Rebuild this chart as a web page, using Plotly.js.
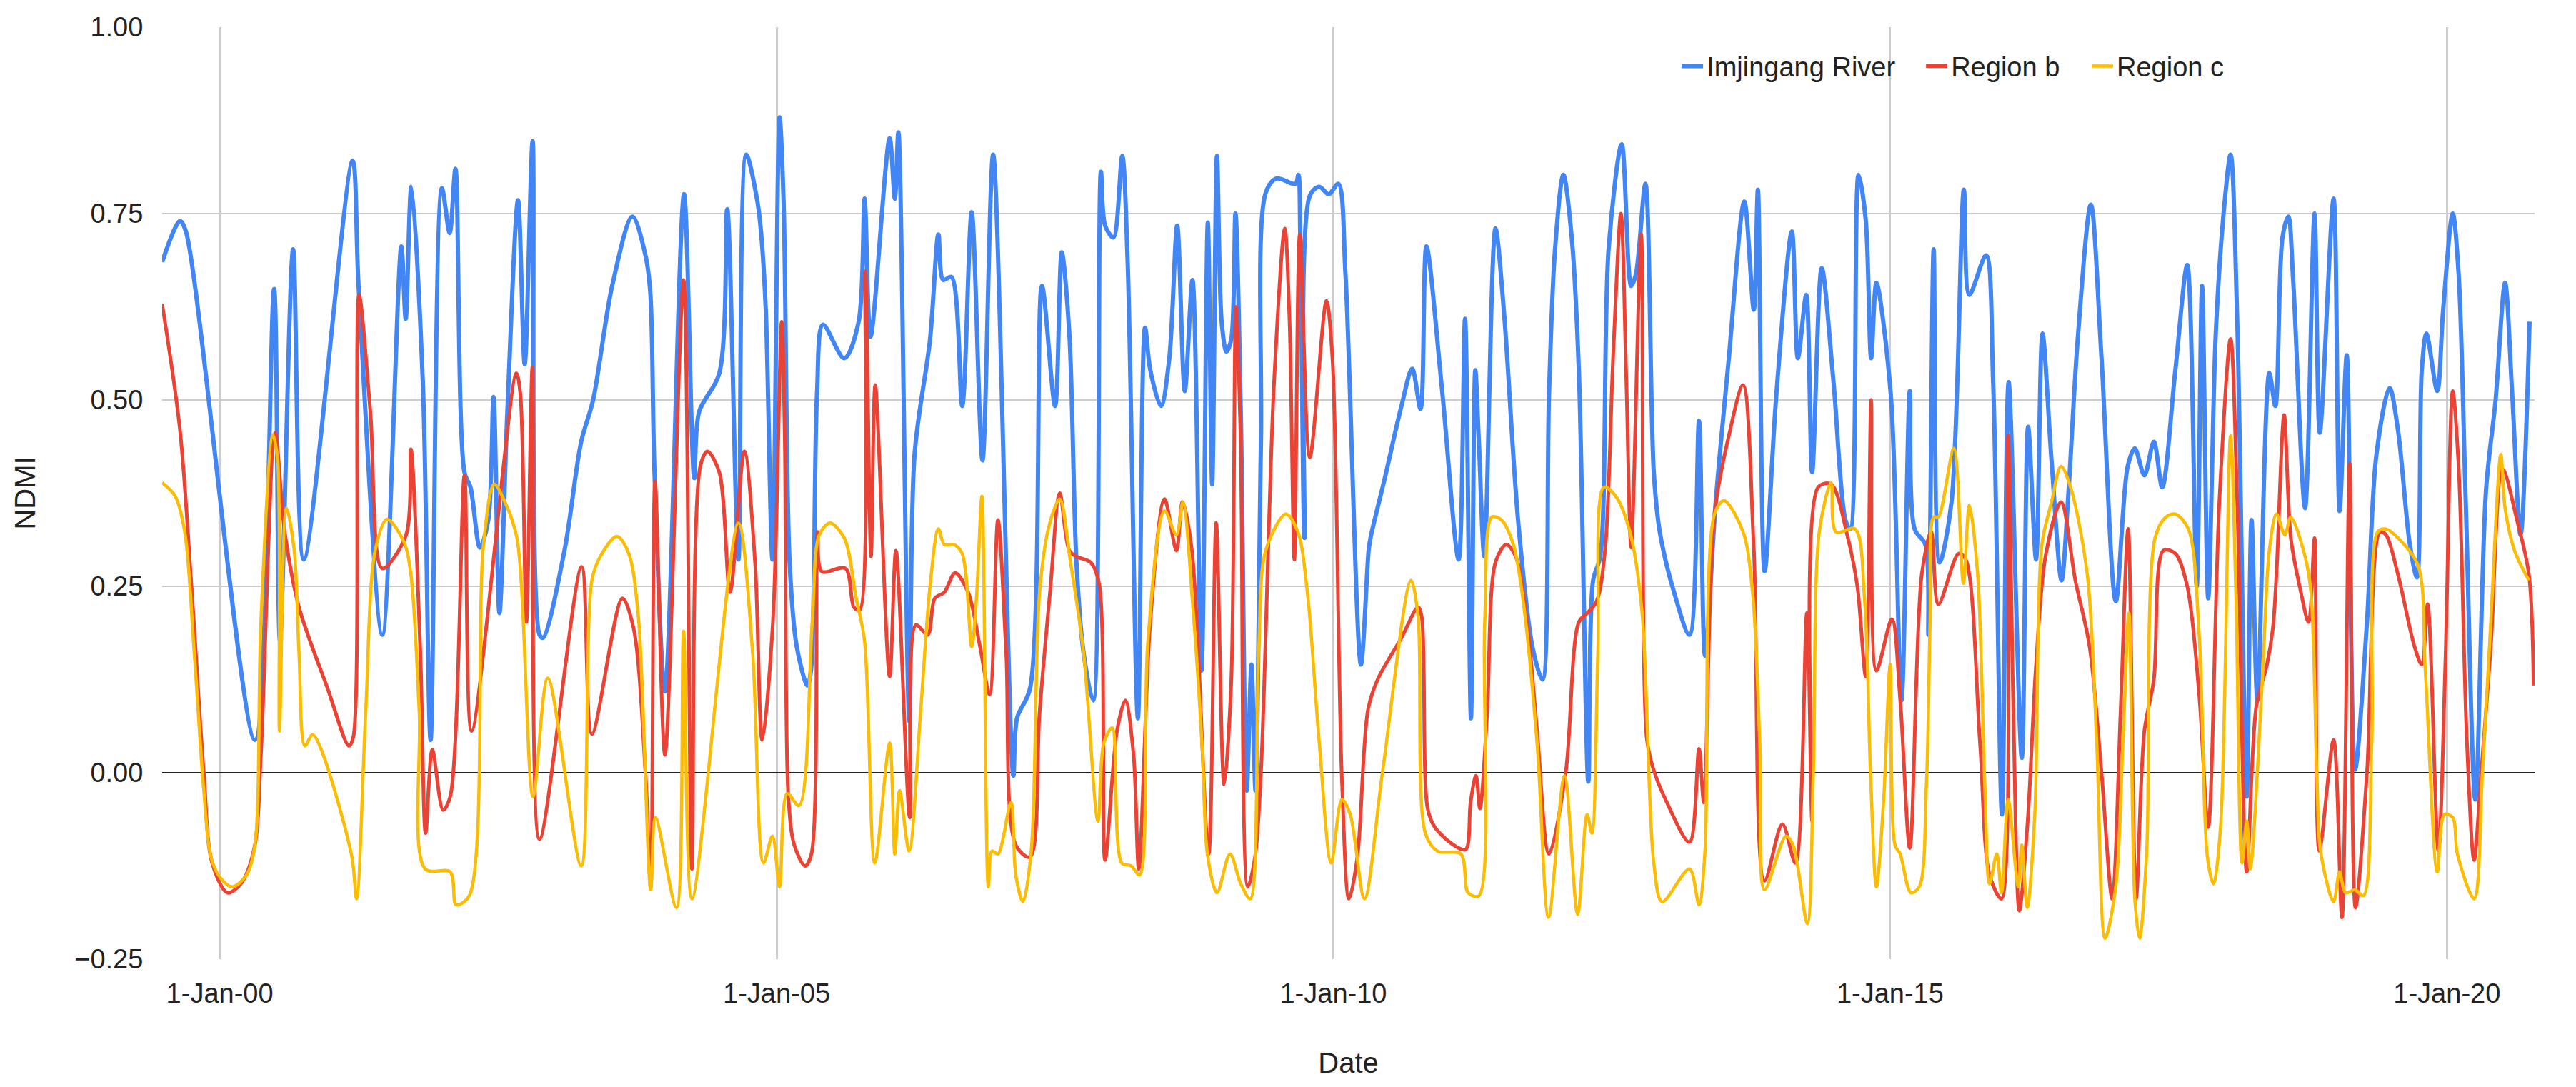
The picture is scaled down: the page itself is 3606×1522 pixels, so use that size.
<!DOCTYPE html>
<html>
<head>
<meta charset="utf-8">
<script src="https://cdn.plot.ly/plotly-3.0.1.min.js"></script>
<style>html,body{margin:0;padding:0;background:#fff;}#chart{width:3606px;height:1522px;}</style>
</head>
<body>
<div id="chart"></div>
<script>
// Time in decimal years, NDMI values
const riverT = [1999.483,1999.643,1999.696,2000.316,2000.488,2000.541,2000.659,2000.755,2001.193,2001.247,2001.460,2001.631,2001.670,2001.721,2001.824,2001.894,2001.995,2002.065,2002.117,
2002.198,2002.252,2002.337,2002.412,2002.459,2002.512,2002.583,2002.679,2002.739,2002.810,2002.872,2002.904,2003.096,2003.246,2003.353,2003.524,2003.706,2003.823,2003.866,2003.904,2003.998,2004.169,2004.261,2004.304,2004.486,2004.557,2004.657,2004.728,2004.828,
2004.860,2004.903,2004.963,2005.027,2005.063,2005.117,2005.181,2005.277,2005.309,2005.363,2005.416,2005.608,2005.737,2005.790,2005.844,2006.015,2006.062,2006.094,2006.192,2006.239,2006.378,2006.453,2006.496,2006.571,2006.667,2006.752,2006.849,2006.945,2007.126,2007.159,2007.276,2007.383,2007.501,
2007.561,2007.629,2007.693,2007.757,2007.843,2007.913,2007.950,2008.025,2008.104,2008.153,2008.245,2008.309,2008.356,2008.452,2008.527,2008.598,2008.666,2008.735,2008.816,2008.873,2008.912,2008.955,2008.997,2009.040,2009.083,2009.121,2009.169,2009.222,2009.265,2009.301,2009.350,2009.393,2009.489,2009.660,2009.686,2009.703,2009.741,2009.789,2009.874,2009.959,2010.045,2010.109,
2010.248,2010.317,2010.334,2010.462,2010.612,2010.708,2010.783,2010.836,2010.975,2011.125,2011.183,2011.236,2011.275,2011.307,2011.356,2011.456,2011.531,2011.659,2011.788,2011.878,2011.937,2011.991,2012.066,2012.141,2012.205,2012.290,2012.333,2012.397,2012.472,2012.590,2012.675,2012.718,2012.803,
2012.878,2012.932,2013.060,2013.199,2013.284,2013.338,2013.434,2013.552,2013.691,2013.776,2013.813,2013.873,2013.979,2014.118,2014.172,2014.247,2014.300,2014.386,2014.492,2014.599,2014.642,2014.717,2014.781,2014.830,2014.877,2015.006,2015.102,2015.177,2015.220,2015.316,2015.344,2015.391,2015.444,
2015.551,2015.662,2015.711,2015.861,2015.925,2016.004,2016.064,2016.182,2016.239,2016.310,2016.368,2016.449,2016.539,2016.599,2016.684,2016.802,2016.898,2017.026,2017.133,2017.197,2017.283,2017.368,2017.443,2017.561,2017.668,2017.753,2017.801,2017.856,2017.924,2017.999,2018.057,2018.117,
2018.202,2018.245,2018.298,2018.405,2018.459,2018.523,2018.576,2018.619,2018.726,2018.811,2018.858,2018.982,2019.036,2019.100,2019.175,2019.282,2019.367,2019.485,2019.560,2019.667,2019.731,2019.774,2019.816,2019.913,2019.966,2020.052,2020.105,2020.169,2020.255,2020.351,2020.437,2020.522,2020.586,2020.661,2020.742];
const riverV = [0.685,0.740,0.726,0.044,0.649,0.177,0.702,0.286,0.821,0.653,0.185,0.706,0.609,0.786,0.524,0.044,0.784,0.724,0.810,
0.403,0.383,0.302,0.339,0.504,0.214,0.484,0.768,0.548,0.847,0.185,0.181,0.298,0.444,0.500,0.653,0.746,0.694,0.645,0.403,0.109,0.776,0.395,0.484,0.536,0.756,0.286,0.829,0.766,
0.726,0.621,0.286,0.879,0.766,0.282,0.169,0.117,0.137,0.508,0.601,0.556,0.605,0.770,0.585,0.851,0.770,0.859,0.069,0.427,0.581,0.722,0.661,0.665,0.492,0.752,0.419,0.829,-0.004,0.073,0.113,0.653,0.492,
0.698,0.589,0.282,0.161,0.097,0.806,0.734,0.718,0.827,0.685,0.073,0.597,0.540,0.492,0.556,0.734,0.512,0.661,0.137,0.738,0.387,0.827,0.605,0.565,0.581,0.750,0.484,-0.024,0.145,-0.024,0.444,0.778,0.797,0.790,0.802,0.718,0.315,0.774,0.786,0.776,0.790,0.669,
0.145,0.298,0.315,0.395,0.492,0.542,0.488,0.706,0.516,0.286,0.609,0.073,0.540,0.444,0.290,0.730,0.621,0.339,0.169,0.125,0.508,0.702,0.802,0.718,0.540,-0.012,0.258,0.290,0.702,0.843,0.653,0.669,0.790,
0.403,0.323,0.242,0.185,0.472,0.157,0.363,0.556,0.766,0.621,0.782,0.270,0.508,0.726,0.556,0.641,0.403,0.677,0.524,0.339,0.327,0.802,0.742,0.556,0.657,0.508,0.097,0.512,0.327,0.306,0.185,0.702,0.282,
0.363,0.782,0.641,0.694,0.524,-0.056,0.524,0.020,0.464,0.286,0.589,0.419,0.258,0.371,0.581,0.762,0.556,0.230,0.411,0.435,0.399,0.444,0.383,0.540,0.681,0.250,0.653,0.234,0.589,0.758,0.829,0.605,
-0.032,0.339,0.097,0.536,0.492,0.718,0.746,0.661,0.355,0.750,0.456,0.770,0.351,0.560,0.004,0.202,0.427,0.516,0.460,0.306,0.262,0.540,0.589,0.512,0.621,0.750,0.669,0.363,-0.036,0.379,0.500,0.657,0.508,0.319,0.605];

const regionBT = [1999.483,1999.643,1999.750,1999.857,1999.932,2000.071,2000.199,2000.316,2000.370,2000.498,2000.584,2000.712,2000.969,2001.161,2001.200,2001.251,2001.353,2001.460,2001.674,2001.717,2001.802,2001.849,2001.909,2002.006,2002.070,2002.198,
2002.262,2002.664,2002.700,2002.754,2002.808,2002.872,2003.250,2003.342,2003.616,2003.716,2003.823,2003.870,2003.909,2003.998,2004.165,2004.240,2004.315,2004.379,2004.486,2004.582,2004.711,2004.807,2004.871,
2004.967,2005.046,2005.074,2005.106,2005.159,2005.256,2005.313,2005.369,2005.405,2005.619,2005.694,2005.747,2005.797,2005.848,2005.886,2006.015,2006.072,2006.196,2006.250,2006.357,2006.421,2006.507,2006.603,2006.720,2006.827,2006.913,2006.988,2007.062,2007.148,2007.276,2007.362,2007.458,
2007.543,2007.629,2007.693,2007.821,2007.896,2007.950,2008.057,2008.132,2008.206,2008.253,2008.356,2008.484,2008.591,2008.645,2008.730,2008.880,2008.948,2009.019,2009.083,2009.126,2009.168,2009.233,2009.297,2009.350,2009.468,2009.564,2009.607,2009.650,2009.699,2009.789,2009.938,2009.992,2010.077,2010.141,
2010.216,2010.312,2010.398,2010.612,2010.761,2010.793,2010.847,2010.911,2011.082,2011.189,2011.232,2011.281,2011.317,2011.382,2011.456,2011.553,2011.638,2011.745,2011.830,2011.937,2012.087,2012.205,2012.280,2012.365,2012.440,2012.515,2012.583,2012.632,2012.675,2012.765,
2012.814,2012.868,2012.996,2013.199,2013.284,2013.327,2013.423,2013.552,2013.680,2013.776,2013.872,2014.033,2014.150,2014.253,2014.300,2014.354,2014.471,2014.621,2014.706,2014.781,2014.830,2014.877,2015.016,2015.091,2015.177,2015.284,2015.369,2015.433,
2015.615,2015.679,2015.807,2015.893,2016.000,2016.058,2016.107,2016.160,2016.235,2016.310,2016.395,2016.534,2016.663,2016.791,2016.898,2016.994,2017.069,2017.137,2017.208,2017.283,2017.368,2017.454,2017.561,2017.668,2017.775,2017.856,2017.956,2018.057,2018.117,
2018.202,2018.288,2018.384,2018.437,2018.469,2018.538,2018.598,2018.683,2018.758,2018.811,2018.854,2018.982,2019.057,2019.126,2019.179,2019.282,2019.399,2019.453,2019.560,2019.709,2019.774,2019.827,2019.923,2019.987,2020.052,2020.105,2020.180,2020.244,2020.308,2020.394,2020.500,2020.629,2020.736,2020.778];
const regionBV = [0.629,0.460,0.242,0.000,-0.121,-0.161,-0.147,-0.097,0.024,0.456,0.323,0.222,0.113,0.036,0.048,0.641,0.484,0.274,0.319,0.434,0.161,-0.081,0.031,-0.050,-0.032,0.399,
0.056,0.536,0.508,0.202,0.544,-0.089,0.276,0.052,0.234,0.194,0.000,-0.153,0.391,0.024,0.661,-0.129,0.411,0.431,0.403,0.242,0.431,0.282,0.044,
0.202,0.605,0.444,-0.032,-0.097,-0.125,-0.109,0.323,0.270,0.274,0.222,0.218,0.673,0.290,0.520,0.129,0.298,-0.060,0.198,0.185,0.234,0.242,0.268,0.242,0.169,0.105,0.339,0.161,-0.097,-0.113,0.081,0.246,
0.375,0.298,0.290,0.282,0.254,-0.117,0.056,0.097,0.024,-0.129,0.202,0.367,0.298,0.363,0.298,-0.109,0.335,-0.016,0.121,0.625,0.444,-0.153,-0.113,0.000,0.524,0.730,0.605,0.286,0.722,0.423,0.633,0.556,-0.008,-0.169,
-0.113,0.085,0.125,0.181,0.222,0.210,-0.048,-0.073,-0.097,-0.103,-0.040,-0.004,-0.048,0.081,0.282,0.306,0.290,0.194,0.056,-0.109,0.000,0.202,0.214,0.230,0.298,0.565,0.750,0.524,0.302,0.722,
0.048,0.008,-0.040,-0.093,0.032,-0.040,0.347,0.452,0.520,0.302,-0.145,-0.069,-0.121,0.214,-0.065,0.383,0.387,0.315,0.250,0.129,0.500,0.137,0.206,0.097,-0.101,0.266,0.323,0.226,
0.294,0.286,0.040,-0.137,-0.169,0.452,0.081,-0.185,-0.065,0.145,0.290,0.363,0.258,0.169,0.000,-0.169,0.081,0.327,-0.169,0.056,0.125,0.298,0.294,0.250,0.105,-0.073,0.363,0.582,0.363,
-0.133,0.089,0.145,0.194,0.266,0.480,0.315,0.246,0.202,0.315,-0.105,0.044,-0.194,0.415,-0.181,0.000,0.323,0.319,0.266,0.169,0.145,0.226,-0.105,0.153,0.512,0.411,0.040,-0.117,0.000,0.169,0.407,0.339,0.266,0.117];

const regionCT = [1999.483,1999.600,1999.686,1999.771,1999.857,1999.921,2000.006,2000.113,2000.242,2000.316,2000.370,2000.477,2000.520,2000.537,2000.599,2000.669,2000.712,2000.765,2000.836,2001.182,2001.229,2001.311,2001.396,2001.503,2001.653,2001.717,2001.792,2001.845,2002.070,2002.123,
2002.241,2002.369,2002.465,2002.562,2002.669,2002.814,2002.946,2003.246,2003.342,2003.417,2003.567,2003.673,2003.759,2003.870,2003.913,2004.101,2004.165,2004.240,2004.657,2004.785,
2004.882,2004.963,2005.027,2005.095,2005.202,2005.320,2005.384,2005.480,2005.608,2005.715,2005.790,2005.882,2006.015,2006.062,2006.105,2006.190,2006.293,2006.378,2006.453,2006.507,2006.592,2006.667,2006.752,2006.795,2006.844,2006.902,2006.934,2006.988,2007.105,2007.148,2007.212,2007.287,2007.362,2007.447,
2007.543,2007.640,2007.757,2007.886,2007.939,2008.014,2008.100,2008.185,2008.260,2008.335,2008.484,2008.591,2008.649,2008.741,2008.826,2008.869,2008.955,2009.072,2009.169,2009.254,2009.329,2009.393,2009.575,2009.682,2009.767,2009.874,2009.981,2010.077,2010.152,
2010.280,2010.441,2010.697,2010.761,2010.826,2010.933,2011.146,2011.210,2011.307,2011.360,2011.424,2011.510,2011.617,2011.702,2011.830,2011.933,2012.076,2012.194,2012.279,2012.322,2012.376,2012.429,2012.536,2012.664,2012.771,2012.878,
2012.953,2013.199,2013.284,2013.338,2013.423,2013.509,2013.680,2013.765,2013.830,2013.872,2014.065,2014.129,2014.257,2014.311,2014.364,2014.471,2014.514,2014.685,2014.770,2014.824,2014.877,2014.941,2015.001,2015.044,2015.091,2015.187,2015.262,2015.326,2015.359,2015.391,2015.433,
2015.572,2015.658,2015.711,2015.786,2015.850,2015.893,2015.957,2016.000,2016.060,2016.150,2016.182,2016.231,2016.299,2016.363,2016.449,2016.534,2016.620,2016.770,2016.855,2016.930,2017.026,2017.090,2017.144,2017.197,2017.240,2017.304,2017.379,2017.475,2017.561,2017.678,2017.775,2017.849,2017.903,2017.967,2018.057,2018.106,2018.160,
2018.202,2018.234,2018.341,2018.405,2018.469,2018.544,2018.598,2018.726,2018.779,2018.833,2018.865,2018.982,2019.036,2019.089,2019.175,2019.250,2019.325,2019.378,2019.453,2019.560,2019.741,2019.806,2019.913,2019.977,2020.052,2020.094,2020.244,2020.319,2020.394,2020.484,2020.522,2020.607,2020.736];
const regionCV = [0.389,0.371,0.323,0.161,-0.024,-0.113,-0.141,-0.153,-0.137,-0.097,0.202,0.453,0.419,0.056,0.355,0.298,0.161,0.036,0.051,-0.109,-0.169,0.081,0.298,0.340,0.310,0.266,0.081,-0.129,-0.133,-0.177,
-0.165,0.306,0.387,0.363,0.315,-0.032,0.127,-0.125,0.258,0.290,0.317,0.294,0.210,-0.157,-0.060,-0.181,0.190,-0.169,0.335,0.161,
-0.121,-0.085,-0.153,-0.028,-0.044,0.202,0.319,0.335,0.315,0.234,0.177,-0.121,0.040,-0.109,-0.024,-0.105,0.081,0.250,0.327,0.306,0.306,0.294,0.169,0.234,0.371,-0.153,-0.105,-0.109,-0.040,-0.137,-0.173,-0.105,0.242,0.331,
0.367,0.282,0.161,-0.065,0.040,0.060,-0.121,-0.125,-0.137,0.177,0.351,0.319,0.363,0.218,0.024,-0.109,-0.161,-0.109,-0.149,-0.169,0.161,0.298,0.347,0.323,0.242,0.040,-0.121,-0.036,-0.056,
-0.169,0.000,0.258,0.210,-0.081,-0.105,-0.109,-0.161,-0.165,0.202,0.343,0.339,0.306,0.234,0.040,-0.194,-0.004,-0.190,-0.056,-0.081,0.161,0.383,0.371,0.323,0.218,-0.121,
-0.173,-0.129,-0.177,-0.105,0.347,0.365,0.323,0.242,0.040,-0.157,-0.085,-0.097,-0.202,0.000,0.323,0.389,0.323,0.327,0.234,0.000,-0.153,-0.040,0.145,-0.097,-0.109,-0.161,-0.153,-0.016,0.202,0.343,0.343,
0.435,0.254,0.359,0.266,-0.016,-0.149,-0.109,-0.161,-0.036,-0.153,-0.097,-0.181,-0.056,0.306,0.363,0.411,0.383,0.266,0.040,-0.222,-0.153,0.040,0.214,-0.169,-0.222,-0.105,0.315,0.343,0.347,0.327,0.185,-0.113,-0.149,-0.073,0.452,0.234,-0.121,
-0.065,-0.129,0.121,0.298,0.347,0.319,0.343,0.290,0.242,-0.008,-0.105,-0.173,-0.133,-0.161,-0.157,-0.165,0.040,0.323,0.327,0.315,0.278,0.137,-0.133,-0.056,-0.060,-0.109,-0.169,0.000,0.202,0.427,0.355,0.298,0.258];

const seriesNames = ['Imjingang River', 'Region b', 'Region c'];
const seriesColors = ['#4285F4', '#EA4335', '#FBBC04'];
const xTickVals = [2000, 2005, 2010, 2015, 2020];
const xTickText = ['1-Jan-00', '1-Jan-05', '1-Jan-10', '1-Jan-15', '1-Jan-20'];
const yTickVals = [-0.25, 0, 0.25, 0.5, 0.75, 1.0];
const yTickText = ['\u22120.25', '0.00', '0.25', '0.50', '0.75', '1.00'];

const FONT = 'Liberation Sans, Arial, Helvetica, sans-serif';
const xs = [riverT, regionBT, regionCT];
const ys = [riverV, regionBV, regionCV];
const widths = [6, 5, 4.5];
const legendIds = ['legend', 'legend2', 'legend3'];
const traces = seriesNames.map((n, i) => ({
  type: 'scatter', mode: 'lines', name: n,
  x: xs[i], y: ys[i],
  line: {color: seriesColors[i], width: widths[i], shape: 'spline', smoothing: 0.9},
  legend: legendIds[i], hoverinfo: 'skip'
}));

const legBase = {orientation: 'h', yanchor: 'middle', y: 0.958, xanchor: 'left',
  bgcolor: 'rgba(0,0,0,0)', font: {family: FONT, size: 38, color: '#222222'}};

const layout = {
  width: 3606, height: 1522,
  margin: {l: 227, r: 58, t: 38, b: 179, pad: 0},
  paper_bgcolor: '#ffffff', plot_bgcolor: '#ffffff',
  font: {family: FONT, size: 38, color: '#222222'},
  showlegend: true,
  legend: Object.assign({}, legBase, {x: 0.6390}),
  legend2: Object.assign({}, legBase, {x: 0.7420}),
  legend3: Object.assign({}, legBase, {x: 0.8118}),
  xaxis: {
    range: [1999.483, 2020.787], type: 'linear',
    tickvals: xTickVals, ticktext: xTickText,
    showgrid: true, gridcolor: '#cccccc', gridwidth: 3,
    zeroline: false, showline: false,
    ticks: 'outside', ticklen: 14, tickcolor: 'rgba(0,0,0,0)',
    tickfont: {family: FONT, size: 38, color: '#222222'},
    title: {text: 'Date', font: {family: FONT, size: 40, color: '#222222'}, standoff: 63},
    automargin: false
  },
  yaxis: {
    range: [-0.25, 1.0],
    tickvals: yTickVals, ticktext: yTickText,
    showgrid: true, gridcolor: '#cccccc', gridwidth: 2,
    zeroline: true, zerolinecolor: '#222222', zerolinewidth: 2,
    showline: false,
    ticks: 'outside', ticklen: 18, tickcolor: 'rgba(0,0,0,0)',
    tickfont: {family: FONT, size: 38, color: '#222222'},
    title: {text: 'NDMI', font: {family: FONT, size: 40, color: '#222222'}, standoff: 42},
    automargin: false
  }
};

Plotly.newPlot('chart', traces, layout, {staticPlot: true, displayModeBar: false});
</script>
</body>
</html>
